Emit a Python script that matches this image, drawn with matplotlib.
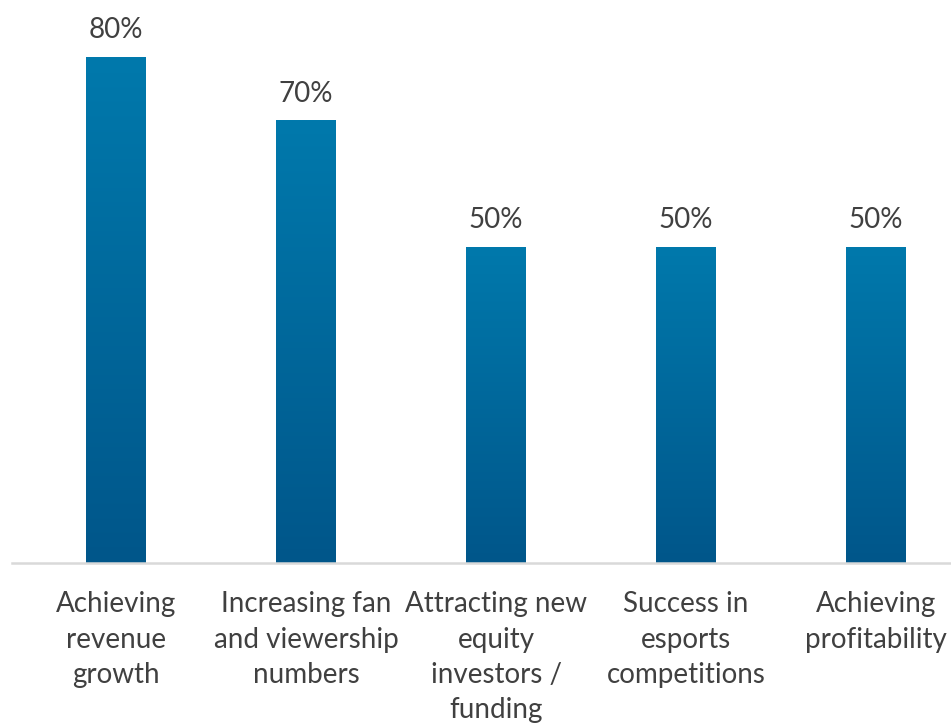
import matplotlib
matplotlib.use("Agg")
import matplotlib.pyplot as plt
import numpy as np
from matplotlib.colors import LinearSegmentedColormap

categories = ["Achieving\nrevenue\ngrowth", "Increasing fan\nand viewership\nnumbers",
              "Attracting new\nequity\ninvestors /\nfunding", "Success in\nesports\ncompetitions",
              "Achieving\nprofitability"]
values = [80, 70, 50, 50, 50]

plt.rcParams['font.family'] = ['Lato', 'DejaVu Sans']

fig = plt.figure(figsize=(9.51, 7.23), dpi=100)
ax = fig.add_axes([12/951, 160/723, 939/951, (563-6.4)/723])

x = np.arange(len(values))
width = 60/190
bars = ax.bar(x, values, width=width, color='none', edgecolor='none', zorder=2)

cmap = LinearSegmentedColormap.from_list("g", ["#00568A", "#0079AC"])
grad = np.linspace(0, 1, 256).reshape(-1, 1)
for b in bars:
    x0, w, h = b.get_x(), b.get_width(), b.get_height()
    im = ax.imshow(grad, cmap=cmap, origin='lower', aspect='auto',
                   extent=[x0, x0 + w, 0, h], zorder=2)
    im.set_clip_path(b)

for xi, v in zip(x, values):
    ax.text(xi, v + 2.15, f"{v}%", ha='center', va='bottom', fontsize=20, color='#404040')

ax.set_xlim(-104/190, 4 + 75/190)
ax.set_ylim(0, 88)
ax.set_xticks(x)
ax.set_xticklabels(categories, fontsize=20, color='#404040', linespacing=1.43)
ax.tick_params(axis='x', length=0, pad=20.5)
ax.set_yticks([])
for s in ['top', 'right', 'left']:
    ax.spines[s].set_visible(False)
ax.spines['bottom'].set_color('#D9D9D9')
ax.spines['bottom'].set_linewidth(1.8)
ax.spines['bottom'].set_zorder(3)

fig.savefig("out.png", dpi=100)
